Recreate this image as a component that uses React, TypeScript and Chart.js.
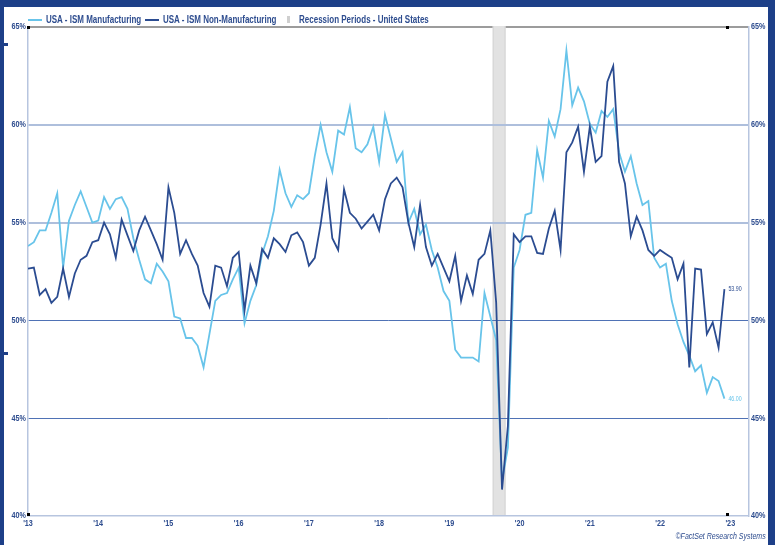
import React, { useEffect, useRef } from "react";
import { Chart, registerables } from "chart.js";

Chart.register(...registerables);

// Month index 0 = Jul 2013 ... 119 = Jun 2023
const yearTickIndex = [0, 12, 24, 36, 48, 60, 72, 84, 96, 108, 120];
const yearTickLabels = ["'13", "'14", "'15", "'16", "'17", "'18", "'19", "'20", "'21", "'22", "'23"];
const yTicks = [40, 45, 50, 55, 60, 65];

const ismManufacturing = [
  53.8, 54.0, 54.6, 54.6, 55.5, 56.5, 52.7, 55.1, 55.9, 56.6,
  55.8, 55.0, 55.1, 56.3, 55.7, 56.2, 56.3, 55.7, 54.2, 53.1,
  52.1, 51.9, 52.9, 52.5, 52.0, 50.2, 50.1, 49.1, 49.1, 48.7,
  47.6, 49.3, 51.0, 51.3, 51.4, 52.1, 52.7, 49.85, 51.0, 51.8,
  53.4, 54.3, 55.6, 57.7, 56.5, 55.8, 56.4, 56.2, 56.5, 58.4,
  60.0, 58.6, 57.6, 59.7, 59.5, 60.9, 58.8, 58.6, 59.0, 59.9,
  58.1, 60.5, 59.3, 58.1, 58.6, 55.0, 55.7, 54.4, 54.9, 53.6,
  52.7, 51.5, 51.0, 48.5, 48.1, 48.1, 48.1, 47.9, 51.4, 50.2,
  49.0, 41.8, 43.5, 52.7, 53.6, 55.4, 55.5, 58.7, 57.3, 60.2,
  59.4, 60.8, 63.8, 61.0, 61.9, 61.2, 60.05, 59.6, 60.7, 60.4,
  60.8, 58.6, 57.6, 58.4, 57.0, 55.9, 56.1, 53.2, 52.7, 52.9,
  51.0, 49.8, 48.9, 48.2, 47.4, 47.7, 46.3, 47.1, 46.9, 46.0,
];

const ismNonManufacturing = [
  52.65, 52.7, 51.3, 51.6, 50.9, 51.2, 52.65, 51.2, 52.4, 53.1,
  53.3, 54.0, 54.1, 55.0, 54.4, 53.2, 55.15, 54.35, 53.55, 54.6,
  55.3, 54.6, 53.9, 53.1, 56.8, 55.5, 53.4, 54.1, 53.4, 52.8,
  51.4, 50.7, 52.8, 52.7, 51.75, 53.2, 53.5, 50.5, 52.8, 51.9,
  53.65, 53.2, 54.2, 53.9, 53.5, 54.35, 54.5, 54.0, 52.8, 53.2,
  54.9, 57.0, 54.2, 53.6, 56.7, 55.5, 55.2, 54.7, 55.05, 55.4,
  54.6, 56.2, 57.0, 57.3, 56.8, 55.0, 53.75, 55.9, 53.75, 52.8,
  53.4, 52.7, 52.0, 53.3, 51.0, 52.3, 51.35, 53.1, 53.4, 54.6,
  50.9, 41.35, 44.6, 54.4, 54.0, 54.3, 54.3, 53.45, 53.4, 54.7,
  55.6, 53.6, 58.6, 59.1, 59.9, 57.6, 59.9, 58.1, 58.4, 62.2,
  63.0, 58.1, 57.0, 54.3, 55.3, 54.6, 53.6, 53.3, 53.6, 53.4,
  53.2, 52.1, 52.9, 47.6, 52.65, 52.6, 49.3, 49.9, 48.6, 51.6,
];

const recessionStart = [79.4];
const recessionEnd = [81.6];
const endLabelText = ["46.00", "53.90"];

const SANS = "'Liberation Sans', Arial, sans-serif";
const LABEL_BLUE = "#2e4d8f";
const LIGHT = "#68c4ea";
const DARK = "#2b4c91";
const FRAME = "#1d3f88";
const SQUEEZE = 0.8;

function narrowText(
  ctx: CanvasRenderingContext2D,
  text: string,
  x: number,
  y: number,
  align: CanvasTextAlign,
  font: string,
  color: string,
  sx = SQUEEZE
) {
  ctx.save();
  ctx.font = font;
  ctx.fillStyle = color;
  ctx.textBaseline = "middle";
  ctx.textAlign = align;
  ctx.translate(x, y);
  ctx.scale(sx, 1);
  ctx.fillText(text, 0, 0);
  ctx.restore();
}

const decorPlugin = {
  id: "decor",
  beforeDraw(chart: any) {
    const { ctx, chartArea, scales } = chart;
    const x = scales.x;
    ctx.save();
    ctx.strokeStyle = "#9c9c9c";
    ctx.lineWidth = 2;
    ctx.beginPath();
    ctx.moveTo(chartArea.left, chartArea.top);
    ctx.lineTo(chartArea.right, chartArea.top);
    ctx.stroke();
    for (let k = 0; k < recessionStart.length; k++) {
      const x0 = x.getPixelForValue(recessionStart[k]);
      const x1 = x.getPixelForValue(recessionEnd[k]);
      ctx.fillStyle = "#e2e2e2";
      ctx.fillRect(x0, chartArea.top - 1, x1 - x0, chartArea.bottom - chartArea.top + 1);
      ctx.fillStyle = "#d3d3d3";
      ctx.fillRect(x0, chartArea.top - 1, 1, chartArea.bottom - chartArea.top + 1);
      ctx.fillRect(x1 - 1, chartArea.top - 1, 1, chartArea.bottom - chartArea.top + 1);
    }
    ctx.restore();
  },
  afterDraw(chart: any) {
    const { ctx, chartArea, scales } = chart;
    const x = scales.x;
    const y = scales.y;
    const tickFont = `bold 9px ${SANS}`;
    // axis labels
    yTicks.forEach((v) => {
      const py = y.getPixelForValue(v);
      narrowText(ctx, `${v}%`, chartArea.left - 2, py, "right", tickFont, LABEL_BLUE);
      narrowText(ctx, `${v}%`, chartArea.right + 2, py, "left", tickFont, LABEL_BLUE);
    });
    yearTickIndex.forEach((v, k) => {
      narrowText(ctx, yearTickLabels[k], x.getPixelForValue(v), chartArea.bottom + 8, "center", tickFont, LABEL_BLUE);
    });
    // end labels
    chart.data.datasets.forEach((ds: any, i: number) => {
      const last = ds.data[ds.data.length - 1];
      narrowText(ctx, endLabelText[i], x.getPixelForValue(last.x) + 4, y.getPixelForValue(last.y), "left", `7px ${SANS}`, ds.borderColor, 0.75);
    });
    // corner markers
    ctx.save();
    ctx.fillStyle = "#000";
    const xl = x.getPixelForValue(yearTickIndex[0]);
    const xr = x.getPixelForValue(yearTickIndex[yearTickIndex.length - 1]) - 3;
    [xl, xr].forEach((px) => {
      ctx.fillRect(Math.round(px) - 1, Math.round(chartArea.top) - 1, 3, 3);
      ctx.fillRect(Math.round(px) - 1, Math.round(chartArea.bottom) - 3, 3, 3);
    });
    ctx.restore();
  },
};

function gridColor(v: number) {
  if (v === 65) return "rgba(0,0,0,0)";
  if (v === 60 || v === 55) return "#aebfdc";
  if (v === 40) return "#b7c5df";
  return "#4f72b5";
}
function gridWidth(v: number) {
  if (v === 60 || v === 55) return 2;
  if (v === 40) return 1.5;
  return 1;
}

export default function App() {
  const canvasRef = useRef<HTMLCanvasElement | null>(null);

  useEffect(() => {
    document.body.style.margin = "0";
    const canvas = canvasRef.current;
    if (!canvas) return;
    const chart = new Chart(canvas, {
      type: "line",
      data: {
        datasets: [
          {
            label: "USA - ISM Manufacturing",
            data: ismManufacturing.map((v, i) => ({ x: i, y: v })),
            borderColor: LIGHT,
            backgroundColor: LIGHT,
            borderWidth: 1.8,
            pointRadius: 0,
            tension: 0,
            order: 1,
          },
          {
            label: "USA - ISM Non-Manufacturing",
            data: ismNonManufacturing.map((v, i) => ({ x: i, y: v })),
            borderColor: DARK,
            backgroundColor: DARK,
            borderWidth: 1.8,
            pointRadius: 0,
            tension: 0,
            order: 0,
          },
        ],
      },
      options: {
        animation: false,
        responsive: false,
        devicePixelRatio: 1,
        layout: { padding: { top: 27, left: 0, right: 0, bottom: 0 } },
        plugins: { legend: { display: false }, tooltip: { enabled: false } },
        scales: {
          x: {
            type: "linear",
            min: 0,
            max: 123.2,
            afterBuildTicks: (scale: any) => {
              scale.ticks = yearTickIndex.map((v) => ({ value: v }));
            },
            afterFit: (scale: any) => {
              scale.height = 29;
            },
            ticks: { display: false },
            grid: { display: false, drawTicks: false },
            border: { display: false },
          },
          y: {
            position: "left",
            min: 40,
            max: 65,
            afterBuildTicks: (scale: any) => {
              scale.ticks = yTicks.map((v) => ({ value: v }));
            },
            afterFit: (scale: any) => {
              scale.width = 28;
            },
            ticks: { display: false },
            grid: {
              drawTicks: false,
              color: (c: any) => gridColor(c.tick?.value),
              lineWidth: (c: any) => gridWidth(c.tick?.value),
            },
            border: { display: true, color: "#b7c5df", width: 1.5 },
          },
          y2: {
            position: "right",
            min: 40,
            max: 65,
            afterBuildTicks: (scale: any) => {
              scale.ticks = yTicks.map((v) => ({ value: v }));
            },
            afterFit: (scale: any) => {
              scale.width = 26;
            },
            ticks: { display: false },
            grid: { display: false, drawTicks: false },
            border: { display: true, color: "#b7c5df", width: 1.5 },
          },
        },
      },
      plugins: [decorPlugin],
    } as any);
    return () => chart.destroy();
  }, []);

  const legendText: React.CSSProperties = {
    position: "absolute",
    top: 14,
    fontFamily: SANS,
    fontWeight: "bold",
    fontSize: 10,
    lineHeight: "12px",
    color: LABEL_BLUE,
    whiteSpace: "nowrap",
    transform: `scaleX(${SQUEEZE})`,
    transformOrigin: "left center",
  };

  return (
    <div style={{ position: "relative", width: 775, height: 545, background: "#fff", overflow: "hidden" }}>
      <canvas ref={canvasRef} width={775} height={545} style={{ position: "absolute", left: 0, top: 0, width: 775, height: 545 }} />
      <div style={{ position: "absolute", left: 0, top: 0, width: 775, height: 7, background: FRAME }} />
      <div style={{ position: "absolute", left: 0, top: 0, width: 4, height: 545, background: FRAME }} />
      <div style={{ position: "absolute", left: 0, top: 43, width: 8, height: 3, background: FRAME }} />
      <div style={{ position: "absolute", left: 0, top: 352, width: 8, height: 3, background: FRAME }} />
      <div style={{ position: "absolute", left: 768, top: 0, width: 7, height: 545, background: FRAME }} />
      <div style={{ position: "absolute", left: 28, top: 19, width: 14, height: 2, background: LIGHT }} />
      <div style={{ ...legendText, left: 46 }}>USA - ISM Manufacturing</div>
      <div style={{ position: "absolute", left: 145, top: 19, width: 14, height: 2, background: DARK }} />
      <div style={{ ...legendText, left: 163 }}>USA - ISM Non-Manufacturing</div>
      <div style={{ position: "absolute", left: 287, top: 16, width: 3, height: 7, background: "#cfcfcf" }} />
      <div style={{ ...legendText, left: 299 }}>Recession Periods - United States</div>
      <div
        style={{
          position: "absolute",
          right: 9,
          top: 531,
          fontFamily: SANS,
          fontStyle: "italic",
          fontSize: 9,
          lineHeight: "11px",
          color: LABEL_BLUE,
          whiteSpace: "nowrap",
          transform: "scaleX(0.78)",
          transformOrigin: "right center",
        }}
      >
        ©FactSet Research Systems
      </div>
    </div>
  );
}
